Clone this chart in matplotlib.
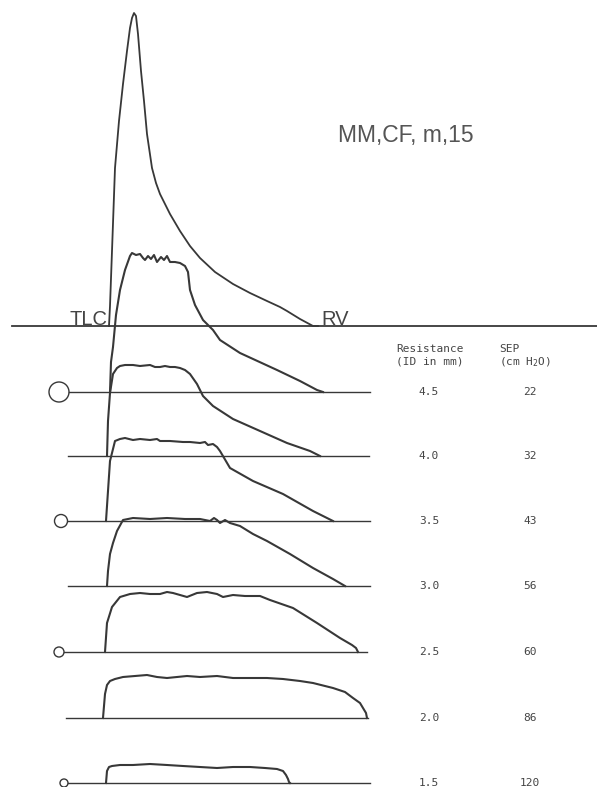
import matplotlib
matplotlib.use('Agg')
import matplotlib.pyplot as plt
from matplotlib.patches import Circle

# resistance (tube ID, mm) and SEP (cm H2O) for each trace
resistance = ['4.5', '4.0', '3.5', '3.0', '2.5', '2.0', '1.5']
sep = ['22', '32', '43', '56', '60', '86', '120']

# maximal flow-volume curve (no resistance): volume, flow above baseline
max_vol = [109, 110, 112, 115, 119, 123, 127, 130, 132, 134, 136, 138, 141, 144, 147, 152, 156,
           160, 170, 180, 190, 200, 215, 233, 250, 267, 280, 287, 300, 313, 318]
max_flow = [0, 20, 75, 158, 205, 242, 275, 298, 308, 313, 310, 292, 255, 225, 192, 158, 143,
            132, 112, 95, 80, 68, 54, 42, 33, 25, 19, 15, 7, 0, 0]

# curves with external resistance
vol = [
    [110, 111, 113, 116, 120, 125, 130, 132, 136, 140, 143, 145, 148, 151, 154, 157, 161, 164, 167,
     170, 175, 180, 185, 188, 190, 195, 203, 213, 220, 240, 277, 300, 317, 323],
    [107, 108, 110, 113, 117, 120, 125, 133, 140, 150, 155, 160, 165, 170, 175, 180, 185, 190, 197,
     203, 213, 233, 260, 287, 310, 320],
    [106, 108, 110, 115, 120, 125, 133, 140, 150, 157, 160, 170, 183, 190, 200, 205, 208, 213, 217,
     220, 230, 253, 283, 313, 333],
    [107, 108, 110, 113, 117, 123, 133, 150, 167, 185, 200, 210, 214, 217, 220, 225, 230, 240, 253,
     267, 290, 313, 333, 345],
    [105, 107, 112, 120, 130, 140, 150, 160, 167, 173, 180, 187, 197, 207, 217, 223, 233, 245, 260,
     270, 293, 317, 340, 352, 356, 358],
    [103, 104, 105, 107, 110, 115, 123, 135, 147, 157, 167, 177, 187, 200, 217, 225, 233, 250, 267,
     283, 300, 313, 333, 345, 353, 360, 363, 366, 367],
    [106, 107, 109, 112, 120, 133, 150, 167, 183, 200, 217, 233, 250, 265, 277, 283, 286, 288, 289, 290],
]
flow = [
    [0, 30, 45, 77, 102, 122, 136, 139, 137, 138, 134, 132, 136, 133, 137, 130, 135, 132, 136,
     130, 130, 129, 126, 120, 102, 87, 72, 62, 52, 39, 22, 11, 2, 0],
    [0, 35, 63, 82, 88, 90, 91, 91, 90, 91, 89, 89, 90, 89, 89, 88, 86, 82, 72,
     60, 50, 37, 25, 13, 5, 0],
    [0, 30, 60, 80, 82, 83, 81, 82, 81, 82, 80, 80, 79, 79, 78, 79, 76, 77, 74,
     70, 53, 40, 27, 10, 0],
    [0, 15, 32, 43, 55, 66, 68, 67, 68, 67, 67, 65, 68, 66, 63, 66, 63, 60, 52,
     45, 32, 18, 7, 0],
    [0, 29, 45, 55, 58, 59, 58, 58, 60, 59, 57, 55, 59, 60, 58, 55, 57, 56, 56,
     52, 44, 29, 14, 7, 4, 0],
    [0, 12, 24, 33, 37, 39, 41, 42, 43, 41, 40, 41, 42, 41, 42, 41, 40, 40, 40,
     39, 37, 35, 30, 26, 20, 15, 10, 5, 0],
    [0, 12, 16, 17, 18, 18, 19, 18, 17, 16, 15, 16, 16, 15, 14, 12, 8, 4, 1, 0],
]

# layout (page units)
base_top = 326
bases = [392, 456, 521, 586, 652, 718, 783]
base_x = [(68, 370), (68, 369), (67, 370), (68, 370), (65, 367), (66, 368), (67, 370)]
circles = {0: (59, 10), 2: (61, 6.5), 4: (59, 5), 6: (64, 4)}

ink = '#383838'
fig = plt.figure(figsize=(5.97, 7.87), dpi=100)
ax = fig.add_axes([0, 0, 1, 1])
ax.set_xlim(0, 597)
ax.set_ylim(787, 0)
ax.axis('off')

ax.plot([12, 597], [base_top, base_top], color=ink, lw=1.3)
ax.plot(max_vol, [base_top - f for f in max_flow], color=ink, lw=1.3)
ax.text(69, base_top - 1, 'TLC', fontsize=14.5, color='#444444', family='Liberation Sans', va='baseline')
ax.text(321, base_top - 1, 'RV', fontsize=14.5, color='#444444', family='Liberation Sans', va='baseline')

for i, b in enumerate(bases):
    x0, x1 = base_x[i]
    if i in circles:
        cx, r = circles[i]
        ax.add_patch(Circle((cx, b), r, fill=False, ec=ink, lw=1.0))
        x0 = cx + r
    ax.plot([x0, x1], [b, b], color=ink, lw=1.0)
    ax.plot(vol[i], [b - f for f in flow[i]], color=ink, lw=1.5)
    ax.text(429, b, resistance[i], fontsize=8, family='DejaVu Sans Mono', color='#444444',
            ha='center', va='center')
    ax.text(530, b, sep[i], fontsize=8, family='DejaVu Sans Mono', color='#444444',
            ha='center', va='center')

ax.text(338, 142, 'MM,CF, m,15', fontsize=16.5, family='Liberation Sans', color='#555555', va='baseline')
ax.text(396, 352, 'Resistance', fontsize=8, family='DejaVu Sans Mono', color='#444444', va='baseline')
ax.text(396, 365, '(ID in mm)', fontsize=8, family='DejaVu Sans Mono', color='#444444', va='baseline')
ax.text(499, 352, 'SEP', fontsize=8, family='DejaVu Sans Mono', color='#444444', va='baseline')
ax.text(499, 365, '(cm H$_2$O)', fontsize=8, family='DejaVu Sans Mono', color='#444444', va='baseline')

fig.savefig('out.png', dpi=100, facecolor='white')
